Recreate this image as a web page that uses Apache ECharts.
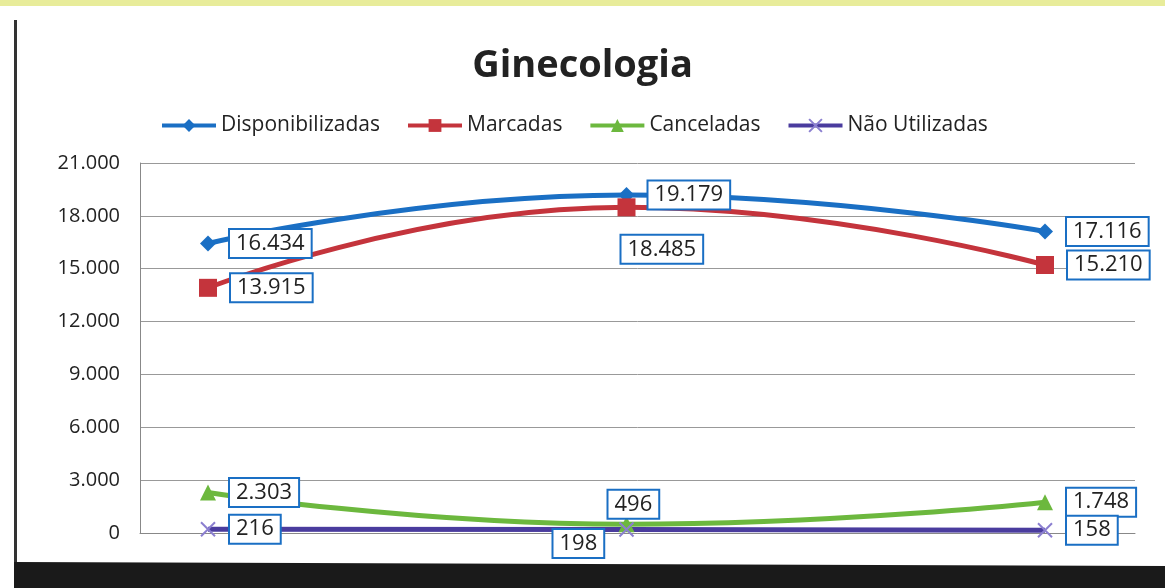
<!DOCTYPE html>
<html>
<head>
<meta charset="utf-8">
<script src="https://cdn.jsdelivr.net/npm/echarts@6/dist/echarts.min.js"></script>
<style>
  html, body { margin: 0; padding: 0; background: #fff; }
  #chart { width: 1165px; height: 588px; }
</style>
</head>
<body>
<div id="chart"></div>
<script>
const categories = ['Período 1', 'Período 2', 'Período 3']
const disponibilizadas = [16434, 19179, 17116]
const marcadas = [13915, 18485, 15210]
const canceladas = [2303, 496, 1748]
const naoUtilizadas = [216, 198, 158]

const fmt = (v) => v.toLocaleString('de-DE')
const crossPath = 'path://M0,0L10,10M10,0L0,10'

const labelBox = {
  show: true,
  position: 'right',
  distance: 14,
  color: '#222',
  fontSize: 22,
  fontFamily: 'Open Sans',
  backgroundColor: '#fff',
  borderColor: '#1a6fc4',
  borderWidth: 2,
  padding: [3, 6, 2, 6],
  formatter: (p) => fmt(p.value)
}

const chart = echarts.init(document.getElementById('chart'))
chart.setOption({
  backgroundColor: '#fff',
  title: {
    text: 'Ginecologia',
    left: 'center',
    top: 42,
    textStyle: { fontSize: 38, fontWeight: 'bold', color: '#222', fontFamily: 'Open Sans' }
  },
  legend: {
    left: 155,
    top: 110,
    itemGap: 26,
    itemWidth: 54,
    itemHeight: 16,
    lineStyle: { width: 4 },
    textStyle: { fontSize: 21, color: '#222', fontFamily: 'Open Sans' },
    data: ['Disponibilizadas', 'Marcadas', 'Canceladas', 'Não Utilizadas']
  },
  grid: [
    { left: 140, right: 30, top: 163, bottom: 55 },
    { left: 208, right: 120, top: 163, bottom: 55 }
  ],
  xAxis: [
    {
      gridIndex: 0, type: 'category', data: categories,
      axisLine: { lineStyle: { color: '#888' } },
      axisTick: { show: false }, axisLabel: { show: false }
    },
    {
      gridIndex: 1, type: 'category', data: categories, boundaryGap: false,
      axisLine: { show: false }, axisTick: { show: false }, axisLabel: { show: false }
    }
  ],
  yAxis: [
    {
      gridIndex: 0, type: 'value', min: 0, max: 21000, interval: 3000,
      axisLine: { show: true, lineStyle: { color: '#888' } },
      axisTick: { show: false },
      splitLine: { lineStyle: { color: '#999', width: 1 } },
      axisLabel: { fontSize: 20, color: '#222', margin: 20, fontFamily: 'Open Sans', formatter: (v) => fmt(v) }
    },
    {
      gridIndex: 1, type: 'value', min: 0, max: 21000, interval: 3000,
      axisLine: { show: false }, axisTick: { show: false },
      splitLine: { show: false }, axisLabel: { show: false }
    }
  ],
  series: [
    {
      name: 'Disponibilizadas', type: 'line', smooth: true,
      xAxisIndex: 1, yAxisIndex: 1, data: disponibilizadas,
      symbol: 'diamond', symbolSize: 16,
      itemStyle: { color: '#1a6fc4' }, lineStyle: { width: 5, color: '#1a6fc4' },
      label: labelBox
    },
    {
      name: 'Marcadas', type: 'line', smooth: true,
      xAxisIndex: 1, yAxisIndex: 1, data: marcadas,
      symbol: 'rect', symbolSize: 18,
      itemStyle: { color: '#c4343c' }, lineStyle: { width: 5, color: '#c4343c' },
      label: labelBox,
      labelLayout: (p) => p.dataIndex === 1 ? { dx: -28, dy: 42 } : {}
    },
    {
      name: 'Canceladas', type: 'line', smooth: true,
      xAxisIndex: 1, yAxisIndex: 1, data: canceladas,
      symbol: 'triangle', symbolSize: 16,
      itemStyle: { color: '#6cb83e' }, lineStyle: { width: 5, color: '#6cb83e' },
      label: labelBox,
      labelLayout: (p) => p.dataIndex === 1 ? { dx: -40, dy: -20 } : {}
    },
    {
      name: 'Não Utilizadas', type: 'line', smooth: true,
      xAxisIndex: 1, yAxisIndex: 1, data: naoUtilizadas,
      symbol: crossPath, symbolSize: 14,
      itemStyle: { color: '#8b7fd0', borderColor: '#8b7fd0', borderWidth: 2 },
      lineStyle: { width: 5, color: '#4a3c9e' },
      label: labelBox,
      labelLayout: (p) => p.dataIndex === 1 ? { dx: -95, dy: 14 } : {}
    }
  ],
  graphic: [
    { type: 'rect', left: 0, top: 0, shape: { width: 1165, height: 6 }, style: { fill: '#e8ec9a' } },
    { type: 'rect', left: 14, top: 20, shape: { width: 3, height: 545 }, style: { fill: '#333' } },
    { type: 'polygon', shape: { points: [[14, 562], [1165, 566], [1165, 588], [14, 588]] }, style: { fill: '#1a1a1a' } }
  ]
})
</script>
</body>
</html>
